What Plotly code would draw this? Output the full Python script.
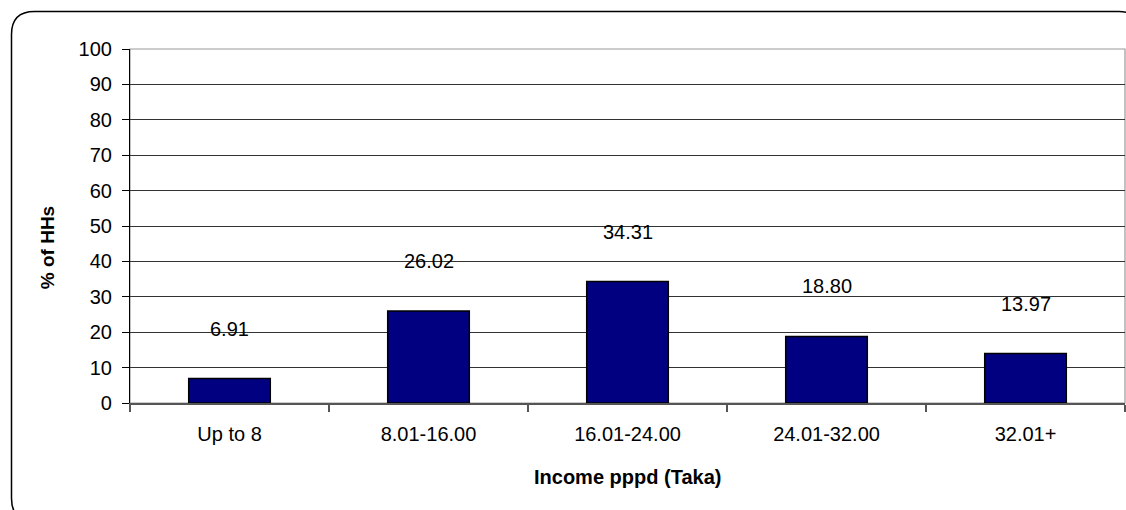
import plotly.graph_objects as go

categories = ["Up to 8", "8.01-16.00", "16.01-24.00", "24.01-32.00", "32.01+"]
values = [6.91, 26.02, 34.31, 18.80, 13.97]
labels = ["6.91", "26.02", "34.31", "18.80", "13.97"]
y_ticks = list(range(0, 101, 10))
x_title = "Income pppd (Taka)"
y_title = "% of HHs"

W, H = 1126, 510
L, R, T, B = 130, 1125, 49, 403.5

fig = go.Figure()
fig.add_trace(go.Bar(
    x=categories, y=values, width=0.41,
    marker=dict(color="#000080", line=dict(color="#000000", width=1.5)),
    hoverinfo="skip",
))

for c, v, t in zip(categories, values, labels):
    fig.add_annotation(x=c, y=v, text=t, showarrow=False, yshift=50,
                       yanchor="middle", font=dict(family="Liberation Sans, Arial", size=20, color="#000"))

def px(x):
    return (x - L) / (R - L)

def py(y):
    return (B - y) / (B - T)

# axis titles placed as in the reference
fig.add_annotation(x=px(627), y=py(478), xref="paper", yref="paper", text="<b>" + x_title + "</b>",
                   showarrow=False, xanchor="center", yanchor="middle",
                   font=dict(family="Liberation Sans, Arial", size=20, color="#000"))
fig.add_annotation(x=px(47.5), y=py(248), xref="paper", yref="paper", text="<b>" + y_title + "</b>",
                   showarrow=False, xanchor="center", yanchor="middle", textangle=-90,
                   font=dict(family="Liberation Sans, Arial", size=19, color="#000"))

# rounded outer frame (partially clipped like the reference)
x0, y0, x1, y1, r = 11.5, 11.5, 1142, 522, 23
path = (f"M {px(x0)},{py(y0 + r)} Q {px(x0)},{py(y0)} {px(x0 + r)},{py(y0)} "
        f"L {px(x1 - r)},{py(y0)} Q {px(x1)},{py(y0)} {px(x1)},{py(y0 + r)} "
        f"L {px(x1)},{py(y1 - r)} Q {px(x1)},{py(y1)} {px(x1 - r)},{py(y1)} "
        f"L {px(x0 + r)},{py(y1)} Q {px(x0)},{py(y1)} {px(x0)},{py(y1 - r)} Z")
fig.add_shape(type="path", path=path, xref="paper", yref="paper",
              line=dict(color="#000000", width=1.5), layer="above")
# plot area border (gray top/right)
fig.add_shape(type="rect", xref="paper", yref="paper", x0=0, y0=0, x1=1, y1=1,
              line=dict(color="#999999", width=1.2), layer="below")

fig.update_layout(
    width=W, height=H,
    margin=dict(l=L, r=W - R, t=T, b=H - B, autoexpand=False),
    paper_bgcolor="white", plot_bgcolor="white",
    showlegend=False,
    font=dict(family="Liberation Sans, Arial", size=20, color="#000"),
    xaxis=dict(
        type="category", tickson="boundaries", ticks="outside", ticklen=7,
        tickcolor="#555555", tickwidth=1.5,
        showline=True, linecolor="#555555", linewidth=2,
        showgrid=False, ticklabelstandoff=12,
    ),
    yaxis=dict(
        range=[0, 100], tickvals=y_ticks, ticks="outside", ticklen=7,
        tickcolor="#000000", tickwidth=1,
        showline=True, linecolor="#000000", linewidth=1.2,
        showgrid=True, gridcolor="#333333", gridwidth=1,
        zeroline=False, ticklabelstandoff=6,
    ),
)

fig.write_html("out.html")
